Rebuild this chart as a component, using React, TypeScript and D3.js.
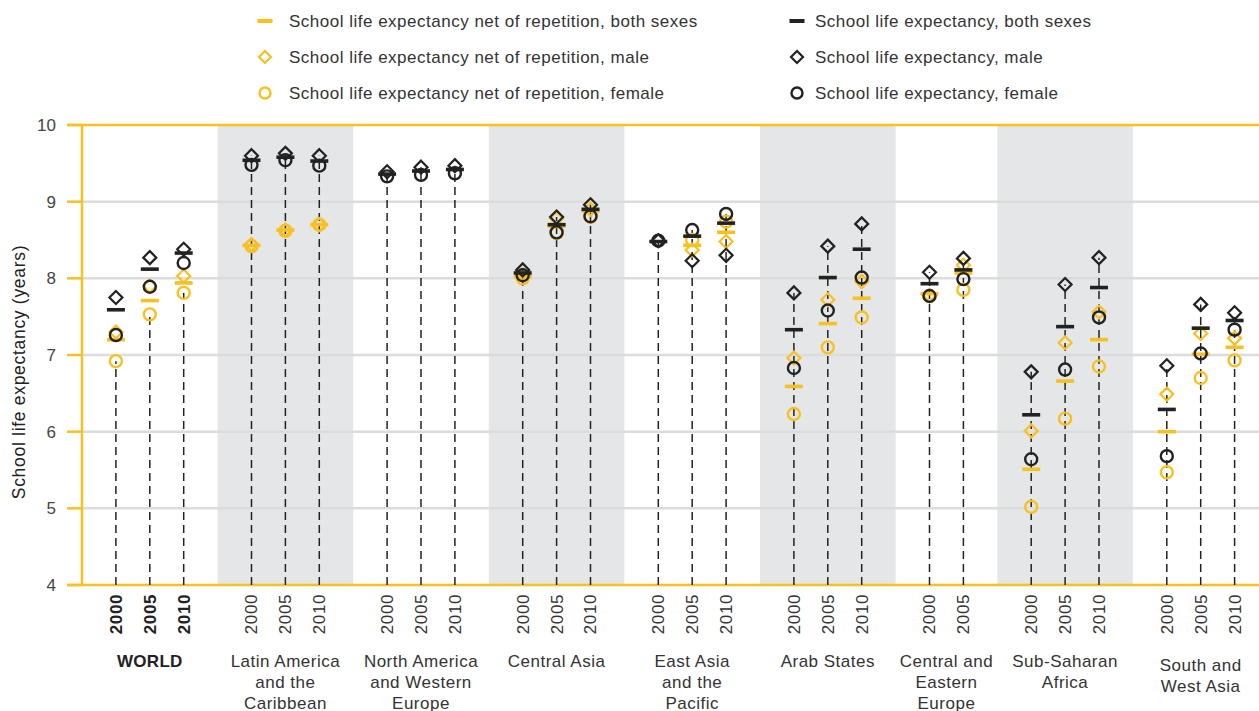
import React from "react";
import * as d3 from "d3";

// ---- Data ----
const groupNames: string[][] = [
  ["WORLD"],
  ["Latin America", "and the", "Caribbean"],
  ["North America", "and Western", "Europe"],
  ["Central Asia"],
  ["East Asia", "and the", "Pacific"],
  ["Arab States"],
  ["Central and", "Eastern", "Europe"],
  ["Sub-Saharan", "Africa"],
  ["South and", "West Asia"],
];
const groupSlots: number[][] = [
  [1, 2, 3],
  [5, 6, 7],
  [9, 10, 11],
  [13, 14, 15],
  [17, 18, 19],
  [21, 22, 23],
  [25, 26],
  [28, 29, 30],
  [32, 33, 34],
];
const shadedGroups: [number, number][] = [
  [4, 8],
  [12, 16],
  [20, 24],
  [27, 31],
];
const years: string[][] = [
  ["2000", "2005", "2010"],
  ["2000", "2005", "2010"],
  ["2000", "2005", "2010"],
  ["2000", "2005", "2010"],
  ["2000", "2005", "2010"],
  ["2000", "2005", "2010"],
  ["2000", "2005"],
  ["2000", "2005", "2010"],
  ["2000", "2005", "2010"],
];

type V = number | null;
const sleBoth: V[] = [7.59, 8.12, 8.33, 9.54, 9.58, 9.53, 9.36, 9.40, 9.42, 8.07, 8.70, 8.90, 8.48, 8.55, 8.72, 7.33, 8.01, 8.38, 7.93, 8.11, 6.22, 7.37, 7.88, 6.29, 7.35, 7.45];
const sleMale: V[] = [7.75, 8.27, 8.38, 9.60, 9.63, 9.60, 9.39, 9.45, 9.47, 8.11, 8.80, 8.96, 8.49, 8.23, 8.30, 7.81, 8.42, 8.71, 8.08, 8.26, 6.78, 7.92, 8.27, 6.86, 7.66, 7.55];
const sleFemale: V[] = [7.26, 7.89, 8.20, 9.48, 9.54, 9.47, 9.33, 9.35, 9.37, 8.04, 8.60, 8.81, 8.49, 8.63, 8.84, 6.83, 7.58, 8.01, 7.77, 7.99, 5.64, 6.81, 7.49, 5.68, 7.02, 7.33];
const netBoth: V[] = [7.20, 7.71, 7.94, 8.43, 8.63, 8.70, null, null, null, 8.02, 8.68, 8.88, null, 8.43, 8.60, 6.59, 7.41, 7.74, 7.80, 8.07, 5.51, 6.66, 7.20, 6.00, 7.01, 7.10];
const netMale: V[] = [7.30, 7.90, 8.03, 8.44, 8.63, 8.70, null, null, null, 8.05, 8.78, 8.90, null, 8.37, 8.48, 6.96, 7.72, 7.96, 7.78, 8.17, 6.01, 7.16, 7.56, 6.49, 7.28, 7.22];
const netFemale: V[] = [6.92, 7.53, 7.81, 8.42, 8.62, 8.70, null, null, null, 8.00, 8.59, 8.80, null, 8.50, 8.74, 6.23, 7.10, 7.49, 7.77, 7.85, 5.02, 6.17, 6.85, 5.47, 6.70, 6.93];

const yTicks = [4, 5, 6, 7, 8, 9, 10];
const legendLabels = [
  "School life expectancy net of repetition, both sexes",
  "School life expectancy net of repetition, male",
  "School life expectancy net of repetition, female",
  "School life expectancy, both sexes",
  "School life expectancy, male",
  "School life expectancy, female",
];

// ---- Style ----
const W = 1259;
const H = 711;
const YEL = "#f8c020";
const BLK = "#222222";
const GRID = "#dcdcdc";
const BAND = "#e5e6e7";
const TXT = "#333333";
const FONT = "'Liberation Sans', Arial, sans-serif";

const x = d3.scaleLinear().domain([0, 35]).range([82, 82 + 35 * 33.9]);
const y = d3.scaleLinear().domain([4, 10]).range([585, 125]);

function Diamond({ cx, cy, color, s = 6.5, sw = 2.2 }: any) {
  const p = d3.path();
  p.moveTo(cx, cy - s);
  p.lineTo(cx + s, cy);
  p.lineTo(cx, cy + s);
  p.lineTo(cx - s, cy);
  p.closePath();
  return <path d={p.toString()} fill="none" stroke={color} strokeWidth={sw} />;
}
function Circ({ cx, cy, color, r = 6, sw = 2.4 }: any) {
  return <circle cx={cx} cy={cy} r={r} fill="none" stroke={color} strokeWidth={sw} />;
}
function Dash({ cx, cy, color, w = 18, h = 3.6 }: any) {
  return <rect x={cx - w / 2} y={cy - h / 2} width={w} height={h} fill={color} />;
}

export default function App() {
  const pts: { slot: number; g: number; year: string; i: number }[] = [];
  let idx = 0;
  groupSlots.forEach((slots, g) => {
    slots.forEach((s, k) => {
      pts.push({ slot: s, g, year: years[g][k], i: idx });
      idx++;
    });
  });

  const allVals = (i: number) =>
    [sleBoth[i], sleMale[i], sleFemale[i], netBoth[i], netMale[i], netFemale[i]].filter(
      (v) => v != null
    ) as number[];

  return (
    <svg
      width={W}
      height={H}
      style={{ position: "absolute", left: 0, top: 0, fontFamily: FONT }}
    >
      <rect x={0} y={0} width={W} height={H} fill="#fff" />
      {/* shaded bands */}
      {shadedGroups.map(([a, b], k) => (
        <rect key={k} x={x(a)} y={y(10)} width={x(b) - x(a)} height={y(4) - y(10)} fill={BAND} />
      ))}
      {/* grid */}
      {yTicks
        .filter((t) => t > 4 && t < 10)
        .map((t) => (
          <line key={t} x1={82} x2={W} y1={y(t)} y2={y(t)} stroke={GRID} strokeWidth={2.5} />
        ))}
      {/* axes */}
      <line x1={67} x2={W} y1={y(10)} y2={y(10)} stroke={YEL} strokeWidth={2.5} />
      <line x1={67} x2={W} y1={y(4)} y2={y(4)} stroke={YEL} strokeWidth={2.5} />
      <line x1={82} x2={82} y1={y(10)} y2={y(4)} stroke={YEL} strokeWidth={2.5} />
      {yTicks.map((t) => (
        <g key={t}>
          <line x1={67} x2={82} y1={y(t)} y2={y(t)} stroke={YEL} strokeWidth={2.5} />
          <text x={56} y={y(t)} dy="0.35em" textAnchor="end" fontSize={17} fill="#444">
            {t}
          </text>
        </g>
      ))}
      <text
        transform={`translate(25, 372) rotate(-90)`}
        textAnchor="middle"
        fontSize={17.5}
        letterSpacing={0.7}
        fill="#222"
      >
        School life expectancy (years)
      </text>

      {/* dashed stems */}
      {pts.map((p) => {
        const vals = allVals(p.i);
        const top = p.g === 0 ? d3.min(vals)! : d3.max(vals)!;
        return (
          <line
            key={"s" + p.i}
            x1={x(p.slot)}
            x2={x(p.slot)}
            y1={y(4)}
            y2={y(top)}
            stroke={BLK}
            strokeWidth={1.5}
            strokeDasharray="8,5"
          />
        );
      })}

      {/* yellow markers */}
      {pts.map((p) => (
        <g key={"y" + p.i}>
          {netFemale[p.i] != null && <Circ cx={x(p.slot)} cy={y(netFemale[p.i]!)} color={YEL} />}
          {netBoth[p.i] != null && <Dash cx={x(p.slot)} cy={y(netBoth[p.i]!)} color={YEL} />}
          {netMale[p.i] != null && <Diamond cx={x(p.slot)} cy={y(netMale[p.i]!)} color={YEL} />}
        </g>
      ))}
      {/* black markers */}
      {pts.map((p) => (
        <g key={"b" + p.i}>
          {sleFemale[p.i] != null && <Circ cx={x(p.slot)} cy={y(sleFemale[p.i]!)} color={BLK} />}
          {sleBoth[p.i] != null && <Dash cx={x(p.slot)} cy={y(sleBoth[p.i]!)} color={BLK} />}
          {sleMale[p.i] != null && <Diamond cx={x(p.slot)} cy={y(sleMale[p.i]!)} color={BLK} />}
        </g>
      ))}

      {/* year labels */}
      {pts.map((p) => (
        <text
          key={"t" + p.i}
          transform={`translate(${x(p.slot)}, 594) rotate(-90)`}
          dy="0.35em"
          textAnchor="end"
          fontSize={17}
          letterSpacing={0.6}
          fontWeight={p.g === 0 ? "bold" : "normal"}
          fill={p.g === 0 ? "#222" : TXT}
        >
          {p.year}
        </text>
      ))}

      {/* group labels */}
      {groupNames.map((lines, g) => {
        const slots = groupSlots[g];
        const cx = (x(slots[0]) + x(slots[slots.length - 1])) / 2;
        const base = g === 8 ? 671 : 667;
        return (
          <text
            key={"g" + g}
            textAnchor="middle"
            fontSize={17}
            letterSpacing={g === 0 ? 0.3 : 0.5}
            fontWeight={g === 0 ? "bold" : "normal"}
            fill={g === 0 ? "#222" : TXT}
          >
            {lines.map((l, k) => (
              <tspan key={k} x={cx} y={base + k * 21}>
                {l}
              </tspan>
            ))}
          </text>
        );
      })}

      {/* legend */}
      {legendLabels.map((lab, k) => {
        const col = k < 3 ? 0 : 1;
        const row = k % 3;
        const ix = col === 0 ? 265 : 797;
        const tx = col === 0 ? 289 : 815;
        const cy = 21 + row * 36;
        const color = col === 0 ? YEL : BLK;
        return (
          <g key={"l" + k}>
            {row === 0 && <Dash cx={ix} cy={cy} color={color} w={15} h={4} />}
            {row === 1 && <Diamond cx={ix} cy={cy} color={color} s={6} />}
            {row === 2 && <Circ cx={ix} cy={cy} color={color} r={5.5} />}
            <text x={tx} y={cy} dy="0.35em" fontSize={17} letterSpacing={0.5} fill={TXT}>
              {lab}
            </text>
          </g>
        );
      })}
    </svg>
  );
}
